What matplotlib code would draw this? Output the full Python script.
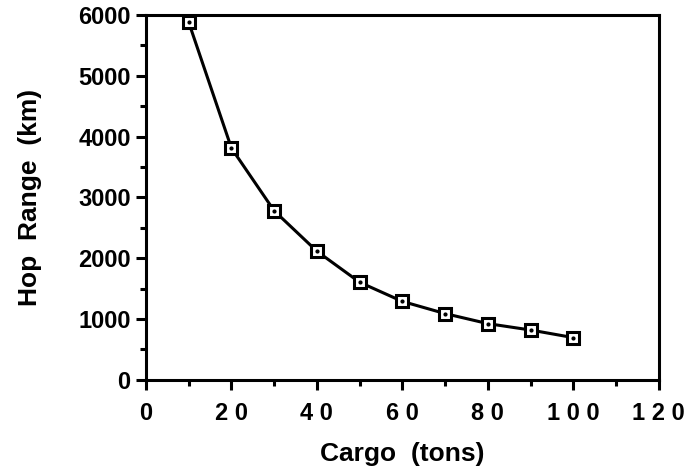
import matplotlib
matplotlib.use("Agg")
import matplotlib.pyplot as plt
from matplotlib.ticker import MultipleLocator, FuncFormatter

# cargo (tons) vs hop range (km)
cargo = [10, 20, 30, 40, 50, 60, 70, 80, 90, 100]
hop_range = [5880, 3810, 2780, 2115, 1605, 1290, 1090, 925, 820, 695]

plt.rcParams['font.family'] = ['Liberation Sans', 'DejaVu Sans']
plt.rcParams['font.weight'] = 'bold'

fig = plt.figure(figsize=(6.87, 4.69), dpi=100)
ax = fig.add_axes([0.2125, 0.19, 0.7465, 0.778])

ax.plot(cargo, hop_range, color='black', lw=2.2, zorder=2)
ax.plot(cargo, hop_range, ls='none', marker='s', ms=8, mfc='white',
        mec='black', mew=2.2, zorder=3)
ax.plot(cargo, hop_range, ls='none', marker='o', ms=2, color='black', zorder=4)

ax.set_xlim(0, 120)
ax.set_ylim(0, 6000)
ax.xaxis.set_major_locator(MultipleLocator(20))
ax.xaxis.set_minor_locator(MultipleLocator(10))
ax.yaxis.set_major_locator(MultipleLocator(1000))
ax.yaxis.set_minor_locator(MultipleLocator(500))
# x labels are printed with spaced-out digits
ax.xaxis.set_major_formatter(FuncFormatter(lambda v, p: ' '.join(str(int(v)))))

for s in ax.spines.values():
    s.set_linewidth(2.2)
ax.tick_params(which='major', direction='out', length=7, width=2.2,
               labelsize=17, pad=4)
ax.tick_params(which='minor', direction='out', length=4, width=2.2)
ax.tick_params(axis='x', pad=9)

ax.set_xlabel('Cargo  (tons)', fontsize=19, fontweight='bold', labelpad=12)
ax.set_ylabel('Hop  Range  (km)', fontsize=19, fontweight='bold', labelpad=26)

fig.savefig('out.png', dpi=100)
